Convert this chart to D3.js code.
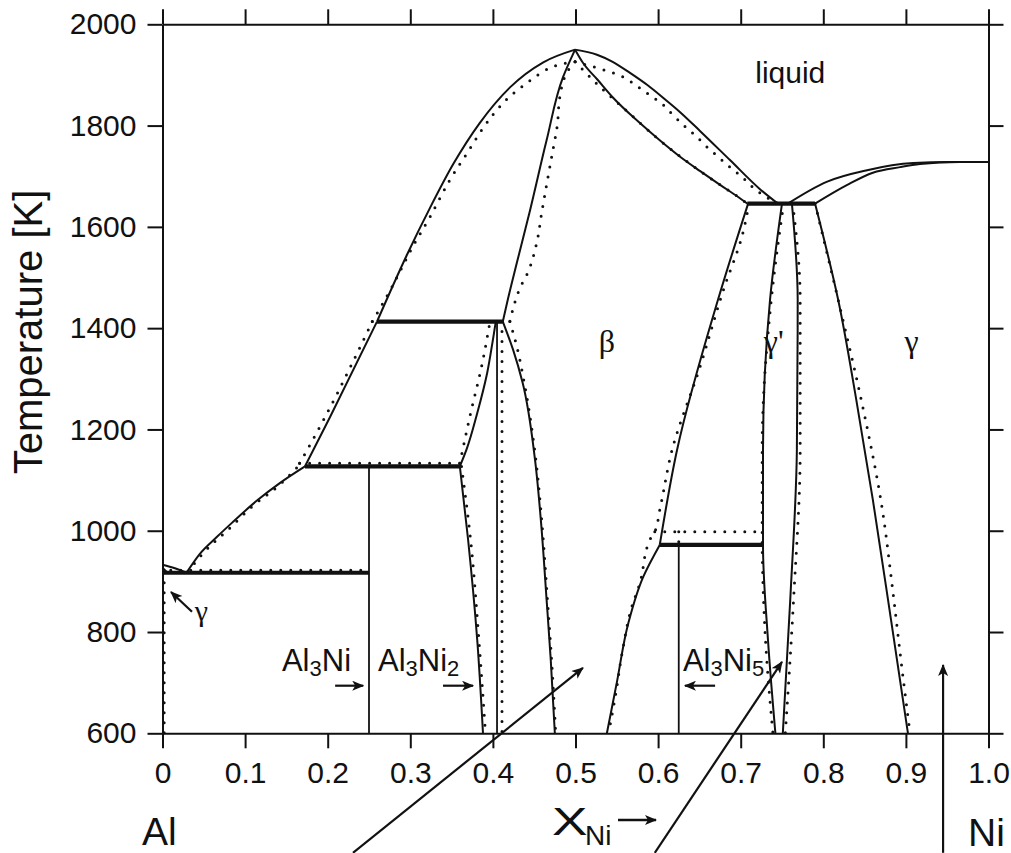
<!DOCTYPE html>
<html>
<head>
<meta charset="utf-8">
<script src="https://cdn.jsdelivr.net/npm/d3@7"></script>
<style>
  body { margin: 0; background: #fff; }
  svg { display: block; }
  text { fill: #111; }
</style>
</head>
<body>
<svg id="chart" width="1011" height="853"></svg>
<script>
// ---- Axis ticks ----
const tempTicks = [600, 800, 1000, 1200, 1400, 1600, 1800, 2000];
const compTicks = [0, 0.1, 0.2, 0.3, 0.4, 0.5, 0.6, 0.7, 0.8, 0.9, 1.0];
const compLabels = ["0", "0.1", "0.2", "0.3", "0.4", "0.5", "0.6", "0.7", "0.8", "0.9", "1.0"];

// ---- Calculated phase boundaries (solid), [x_Ni, T/K] ----
const alLiquidus   = [[0, 933], [0.015, 926], [0.029, 917]];
const alSolidus    = [[0, 927], [0.006, 917]];
const liqLow       = [[0.029, 917], [0.045, 954], [0.066, 988], [0.085, 1017], [0.114, 1059], [0.142, 1094], [0.1725, 1127]];
const liqMid       = [[0.1725, 1127], [0.203, 1225], [0.2597, 1413]];
const liqHighL     = [[0.2597, 1413], [0.296, 1545], [0.324, 1638], [0.352, 1724], [0.384, 1805], [0.421, 1876], [0.461, 1925], [0.4995, 1950]];
const liqHighR     = [[0.4995, 1950], [0.526, 1940], [0.545, 1926], [0.566, 1904], [0.587, 1880], [0.606, 1855], [0.627, 1826], [0.651, 1789], [0.687, 1732], [0.723, 1675], [0.745, 1646]];
const betaSolL     = [[0.4995, 1950], [0.485, 1896], [0.465, 1771], [0.445, 1633], [0.429, 1529], [0.418, 1456], [0.412, 1413]];
const betaSolR     = [[0.4995, 1950], [0.509, 1924], [0.527, 1890], [0.545, 1856], [0.578, 1805], [0.602, 1771], [0.627, 1738], [0.651, 1710], [0.675, 1683], [0.697, 1659], [0.708, 1646]];
const betaLeft     = [[0.412, 1413], [0.4245, 1357], [0.436, 1292], [0.451, 1140], [0.458, 1022], [0.465, 864], [0.470, 746], [0.475, 600]];
const a3n2Upper    = [[0.360, 1127], [0.368, 1160], [0.381, 1232], [0.393, 1311], [0.400, 1377], [0.4035, 1413]];
const a3n2Lower    = [[0.360, 1127], [0.370, 982], [0.381, 785], [0.388, 600]];
const a3n2Right    = [[0.405, 1413], [0.405, 600]];
const al3niLine    = [[0.25, 1127], [0.25, 600]];
const al3ni5Line   = [[0.625, 972], [0.625, 600]];
const betaRightHi  = [[0.709, 1646], [0.6725, 1456], [0.623, 1160], [0.602, 972]];
const betaRightLo  = [[0.602, 972], [0.582, 909], [0.564, 818], [0.550, 700], [0.538, 600]];
const gpLeft       = [[0.750, 1646], [0.7355, 1456], [0.727, 1160], [0.727, 972], [0.733, 785], [0.742, 600]];
const gpRight      = [[0.762, 1646], [0.769, 1456], [0.768, 1160], [0.760, 864], [0.751, 600]];
const gammaLeft    = [[0.790, 1646], [0.818, 1456], [0.840, 1258], [0.860, 1061], [0.882, 824], [0.9025, 600]];
const gpLiquidus   = [[0.757, 1646], [0.804, 1689], [0.853, 1712], [0.909, 1726], [0.953, 1728], [1.0, 1728]];
const gammaSolidus = [[0.790, 1646], [0.829, 1683], [0.860, 1707], [0.893, 1718], [0.917, 1724], [0.965, 1728], [1.0, 1728]];

// ---- Invariant reactions (heavy solid), [x_Ni, T/K] ----
const eut917  = [[0, 917], [0.25, 917]];
const per1127 = [[0.1725, 1127], [0.360, 1127]];
const per1413 = [[0.2597, 1413], [0.412, 1413]];
const per972  = [[0.602, 972], [0.727, 972]];
const inv1646 = [[0.708, 1646], [0.790, 1646]];

// ---- Second assessment (dotted), [x_Ni, T/K] ----
const dLiqLow     = [[0.031, 920], [0.05, 957], [0.08, 1003], [0.11, 1050], [0.14, 1088], [0.166, 1130]];
const dLiqMid     = [[0.166, 1133], [0.197, 1225], [0.254, 1413]];
const dLiqHighL   = [[0.254, 1413], [0.278, 1482], [0.303, 1561], [0.324, 1620], [0.348, 1693], [0.369, 1746], [0.388, 1795], [0.412, 1844], [0.441, 1884], [0.469, 1914], [0.4995, 1926]];
const dLiqHighR   = [[0.4995, 1926], [0.526, 1914], [0.542, 1906], [0.560, 1894], [0.576, 1876], [0.590, 1860], [0.606, 1841], [0.618, 1821], [0.632, 1799], [0.646, 1779], [0.659, 1758], [0.673, 1738], [0.687, 1718], [0.702, 1698], [0.714, 1679], [0.745, 1646]];
const dSolL       = [[0.4995, 1926], [0.490, 1906], [0.481, 1856], [0.478, 1801], [0.472, 1746], [0.465, 1683], [0.459, 1627], [0.453, 1568], [0.442, 1509], [0.433, 1480], [0.423, 1430], [0.4205, 1413]];
const dSolR       = [[0.4995, 1926], [0.530, 1876], [0.560, 1832], [0.602, 1771], [0.651, 1710], [0.697, 1659], [0.708, 1646]];
const dA3n2Upper  = [[0.360, 1133], [0.373, 1232], [0.386, 1322], [0.3965, 1413]];
const dA3n2Lower  = [[0.362, 1127], [0.373, 982], [0.383, 785], [0.391, 600]];
const dA3n2Right  = [[0.411, 1413], [0.411, 600]];
const dBetaLeft   = [[0.4205, 1413], [0.428, 1370], [0.438, 1292], [0.452, 1140], [0.459, 1022], [0.466, 864], [0.471, 746], [0.476, 600]];
const dBetaRight  = [[0.710, 1646], [0.702, 1584], [0.680, 1480], [0.650, 1320], [0.617, 1160], [0.602, 1041], [0.596, 998], [0.590, 982], [0.578, 897], [0.568, 849], [0.557, 764], [0.548, 671], [0.540, 600]];
const dGpLeft     = [[0.752, 1646], [0.737, 1456], [0.726, 1160], [0.726, 998], [0.730, 785], [0.739, 600]];
const dGpRight    = [[0.763, 1646], [0.772, 1456], [0.772, 1160], [0.764, 864], [0.754, 600]];
const dGammaLeft  = [[0.790, 1646], [0.818, 1456], [0.846, 1258], [0.871, 1047], [0.884, 883], [0.895, 731], [0.905, 600]];
const dAlSolvus   = [[0.002, 917], [0.002, 600]];
const dEut917     = [[0.01, 922], [0.25, 922]];
const dPer1127    = [[0.166, 1133], [0.360, 1133]];
const dPer1413    = [[0.254, 1413], [0.4205, 1413]];
const dPer998     = [[0.596, 998], [0.726, 998]];
const dAl3ni5Stub = [[0.625, 998], [0.625, 972]];

// ---- Annotation arrows, [x_Ni, T/K] from tail to head ----
const pointerArrows = [
  [[0.2306, 364], [0.509, 729]],
  [[0.596, 364], [0.750, 741]],
  [[0.945, 364], [0.945, 735]]
];
const labelArrows = [
  [[0.209, 694], [0.243, 694]],
  [[0.3396, 694], [0.376, 694]],
  [[0.669, 694], [0.6325, 694]],
  [[0.0357, 840], [0.0103, 879]]
];

// ---- Region and phase labels ----
const phaseLabels = [
  { x: 0.760, t: 1884, text: "liquid", serif: false, size: 30 },
  { x: 0.538, t: 1353, text: "β", serif: true, size: 32 },
  { x: 0.740, t: 1353, text: "γ'", serif: true, size: 32 },
  { x: 0.907, t: 1353, text: "γ", serif: true, size: 32 },
  { x: 0.047, t: 822, text: "γ", serif: true, size: 30 }
];
const compoundLabels = [
  { x: 0.1446, t: 723, parts: [["Al", 0], ["3", 1], ["Ni", 0]] },
  { x: 0.2609, t: 723, parts: [["Al", 0], ["3", 1], ["Ni", 0], ["2", 1]] },
  { x: 0.630,  t: 723, parts: [["Al", 0], ["3", 1], ["Ni", 0], ["5", 1]] }
];

// ---- Layout ----
const svg = d3.select("#chart");
const plot = { left: 162.5, right: 988.5, top: 24.3, bottom: 733.3 };
const x = d3.scaleLinear().domain([0, 1]).range([plot.left, plot.right]);
const y = d3.scaleLinear().domain([600, 2000]).range([plot.bottom, plot.top]);
const SANS = "'Liberation Sans', Arial, Helvetica, sans-serif";
const SERIF = "'Liberation Serif', 'DejaVu Serif', 'Times New Roman', serif";
const INK = "#111";

// arrowhead marker
const defs = svg.append("defs");
defs.append("marker")
  .attr("id", "head")
  .attr("viewBox", "0 0 12 10")
  .attr("refX", 11).attr("refY", 5)
  .attr("markerUnits", "userSpaceOnUse")
  .attr("markerWidth", 13).attr("markerHeight", 10)
  .attr("orient", "auto")
  .append("path").attr("d", "M0,0 L12,5 L0,10 L3,5 Z").attr("fill", INK);

// ---- Axes ----
function styleAxis(g) {
  g.selectAll("path.domain").attr("stroke", INK).attr("stroke-width", 2);
  g.selectAll(".tick line").attr("stroke", INK).attr("stroke-width", 2);
  g.selectAll(".tick text").attr("fill", INK).style("font-family", SANS).style("font-size", "30px");
}
svg.append("g").attr("transform", `translate(${plot.left},0)`)
  .call(d3.axisLeft(y).tickValues(tempTicks).tickSize(15).tickSizeOuter(0).tickPadding(11).tickFormat(d3.format("d")))
  .call(styleAxis);
svg.append("g").attr("transform", `translate(${plot.right},0)`)
  .call(d3.axisRight(y).tickValues(tempTicks).tickSize(15).tickSizeOuter(0).tickFormat(""))
  .call(styleAxis);
svg.append("g").attr("transform", `translate(0,${plot.bottom})`)
  .call(d3.axisBottom(x).tickValues(compTicks).tickSize(15).tickSizeOuter(0).tickPadding(13).tickFormat((d, i) => compLabels[i]))
  .call(styleAxis);
svg.append("g").attr("transform", `translate(0,${plot.top})`)
  .call(d3.axisTop(x).tickValues(compTicks).tickSize(15).tickSizeOuter(0).tickFormat(""))
  .call(styleAxis);

// axis titles
svg.append("text")
  .attr("transform", "translate(42,332) rotate(-90)")
  .attr("text-anchor", "middle")
  .style("font-family", SANS).style("font-size", "40px")
  .text("Temperature [K]");
svg.append("text").attr("x", 142).attr("y", 845)
  .style("font-family", SANS).style("font-size", "39px").text("Al");
svg.append("text").attr("x", 968).attr("y", 846)
  .style("font-family", SANS).style("font-size", "39px").text("Ni");
// composition symbol: wide X with subscript Ni and an arrow
svg.append("text").attr("transform", "translate(552,835) scale(1.4,1)")
  .style("font-family", SANS).style("font-size", "38px").text("X");
svg.append("text").attr("x", 585).attr("y", 845)
  .style("font-family", SANS).style("font-size", "28px").text("Ni");
svg.append("line").attr("x1", 618).attr("y1", 820).attr("x2", 656).attr("y2", 820)
  .attr("stroke", INK).attr("stroke-width", 2.5).attr("marker-end", "url(#head)");

// ---- Phase boundaries ----
const lineX = d3.line().x(d => x(d[0])).y(d => y(d[1])).curve(d3.curveMonotoneX);
const lineY = d3.line().x(d => x(d[0])).y(d => y(d[1])).curve(d3.curveMonotoneY);
const straight = d3.line().x(d => x(d[0])).y(d => y(d[1]));
const lines = svg.append("g").attr("fill", "none").attr("stroke", INK).attr("stroke-linejoin", "round");

// curves that run across (monotone in composition) and curves that run down (monotone in T)
const solidAcross = [alLiquidus, liqLow, liqMid, liqHighL, liqHighR, betaSolR, gpLiquidus, gammaSolidus];
const solidDown = [alSolidus, betaSolL, betaLeft, a3n2Upper, a3n2Lower, betaRightHi, betaRightLo, gpLeft, gpRight, gammaLeft];
solidAcross.forEach(c => lines.append("path").attr("d", lineX(c)).attr("stroke-width", 2));
solidDown.forEach(c => lines.append("path").attr("d", lineY(c)).attr("stroke-width", 2));

[a3n2Right, al3niLine, al3ni5Line].forEach(c =>
  lines.append("path").attr("d", straight(c)).attr("stroke-width", 1.8));

function dotted(path) {
  return path.attr("stroke-width", 3).attr("stroke-linecap", "round").attr("stroke-dasharray", "0 10");
}
const dottedAcross = [dLiqLow, dLiqMid, dLiqHighL, dLiqHighR, dSolR];
const dottedDown = [dSolL, dA3n2Upper, dA3n2Lower, dBetaLeft, dBetaRight, dGpLeft, dGpRight, dGammaLeft];
dottedAcross.forEach(c => dotted(lines.append("path").attr("d", lineX(c))));
dottedDown.forEach(c => dotted(lines.append("path").attr("d", lineY(c))));
[dAlSolvus, dEut917, dPer1127, dPer1413, dPer998, dA3n2Right, dAl3ni5Stub].forEach(c =>
  dotted(lines.append("path").attr("d", straight(c))));

[eut917, per1127, per1413, per972, inv1646].forEach(c =>
  lines.append("path").attr("d", straight(c)).attr("stroke-width", 4.2));

// ---- Arrows ----
pointerArrows.concat(labelArrows).forEach(a => svg.append("line")
  .attr("x1", x(a[0][0])).attr("y1", y(a[0][1])).attr("x2", x(a[1][0])).attr("y2", y(a[1][1]))
  .attr("stroke", INK).attr("stroke-width", 2.2).attr("marker-end", "url(#head)"));

// ---- Labels ----
phaseLabels.forEach(l => svg.append("text")
  .attr("x", x(l.x)).attr("y", y(l.t)).attr("text-anchor", "middle")
  .style("font-family", l.serif ? SERIF : SANS).style("font-size", l.size + "px")
  .text(l.text));

compoundLabels.forEach(l => {
  const t = svg.append("text").attr("x", x(l.x)).attr("y", y(l.t))
    .style("font-family", SANS).style("font-size", "31px");
  let low = 0;
  l.parts.forEach(([s, sub]) => {
    const dy = sub ? (low ? 0 : 5) : (low ? -5 : 0);
    low = sub;
    t.append("tspan").attr("dy", dy).style("font-size", sub ? "22px" : "31px").text(s);
  });
});
</script>
</body>
</html>
